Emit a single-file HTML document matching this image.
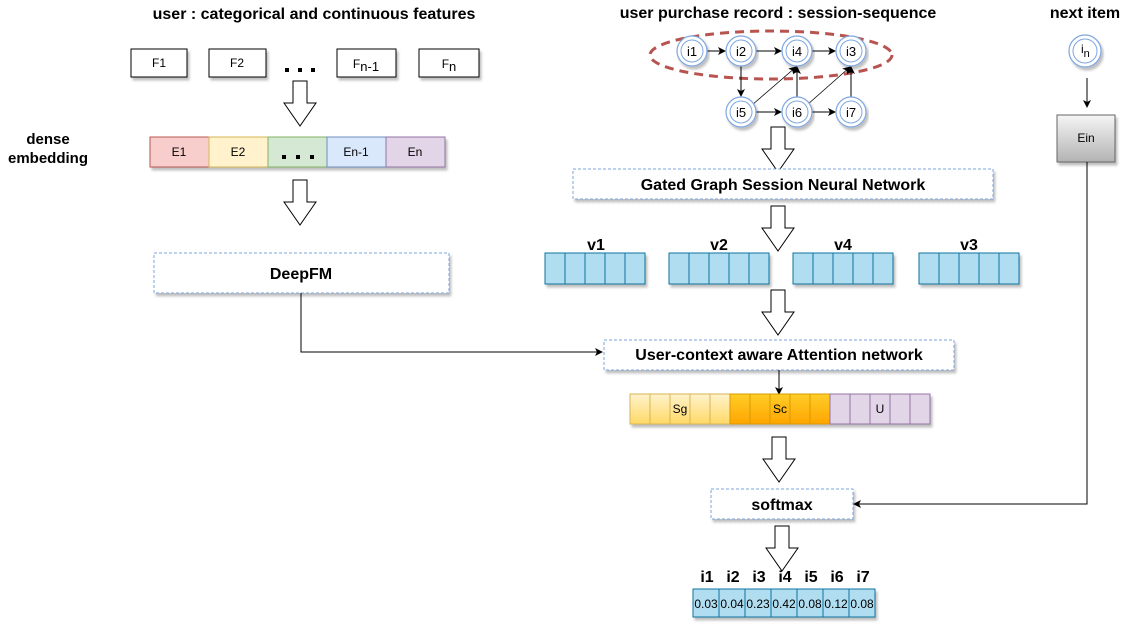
<!DOCTYPE html>
<html><head><meta charset="utf-8"><style>
html,body{margin:0;padding:0;background:#fff}
svg{display:block;font-family:"Liberation Sans",Arial,sans-serif}
.b{font-weight:bold}
</style></head><body>
<svg width="1142" height="629" viewBox="0 0 1142 629" xmlns="http://www.w3.org/2000/svg">
<defs>
<path id="ha" d="M-7,0 H7 V22 H16 L0,45 L-16,22 H-7 Z" fill="#fff" stroke="#000" stroke-width="1"/>
<marker id="ar" markerWidth="8" markerHeight="8" refX="7" refY="4" orient="auto" markerUnits="userSpaceOnUse"><path d="M0,0 L8,4 L0,8 L2,4 Z" fill="#000"/></marker>
<filter id="sh" x="-5%" y="-10%" width="115%" height="140%"><feDropShadow dx="2" dy="3" stdDeviation="1.2" flood-color="#000" flood-opacity="0.25"/></filter>
<linearGradient id="gy" x1="0" y1="0" x2="0" y2="1"><stop offset="0" stop-color="#fff2cc"/><stop offset="1" stop-color="#ffd966"/></linearGradient>
<linearGradient id="go" x1="0" y1="0" x2="0" y2="1"><stop offset="0" stop-color="#ffcd28"/><stop offset="1" stop-color="#ffa500"/></linearGradient>
<linearGradient id="gg" x1="0" y1="0" x2="0" y2="1"><stop offset="0" stop-color="#f5f5f5"/><stop offset="1" stop-color="#b3b3b3"/></linearGradient>
<g id="node"><circle r="15" fill="#fff" stroke="#7ea6e0" stroke-width="1.2" filter="url(#sh)"/><circle r="11" fill="#fff" stroke="#7ea6e0" stroke-width="1"/></g>
<g id="v5" stroke="#10739e" fill="#b1ddf0" filter="url(#sh)"><rect x="0" y="0" width="100" height="31"/><path d="M20,0V31M40,0V31M60,0V31M80,0V31" fill="none"/></g>
</defs>

<text x="314" y="19" text-anchor="middle" font-size="16" class="b">user : categorical and continuous features</text>
<text x="778" y="18" text-anchor="middle" font-size="16" class="b">user purchase record : session-sequence</text>
<text x="1085" y="18" text-anchor="middle" font-size="16" class="b">next item</text>

<g fill="#fff" stroke="#000" filter="url(#sh)">
<rect x="131" y="49" width="56" height="28"/><rect x="209" y="49" width="57" height="28"/>
<rect x="337" y="49" width="59" height="28"/><rect x="419" y="49" width="60" height="28"/></g>
<g font-size="12" text-anchor="middle">
<text x="159" y="67">F1</text><text x="237" y="67">F2</text>
<text x="366" y="68">F<tspan font-size="13" dy="3">n-1</tspan></text>
<text x="449" y="68">F<tspan font-size="13" dy="3">n</tspan></text></g>
<g fill="#000"><rect x="285" y="68" width="4" height="4"/><rect x="298" y="68" width="4" height="4"/><rect x="311" y="68" width="4" height="4"/></g>
<use href="#ha" x="300" y="81"/>

<text x="48" y="144" text-anchor="middle" font-size="15" class="b">dense</text>
<text x="48" y="163" text-anchor="middle" font-size="15" class="b">embedding</text>

<g filter="url(#sh)">
<rect x="150" y="137" width="59" height="30" fill="#f8cecc" stroke="#b85450"/>
<rect x="209" y="137" width="59" height="30" fill="#fff2cc" stroke="#d6b656"/>
<rect x="268" y="137" width="59" height="30" fill="#d5e8d4" stroke="#82b366"/>
<rect x="327" y="137" width="59" height="30" fill="#dae8fc" stroke="#6c8ebf"/>
<rect x="386" y="137" width="59" height="30" fill="#e1d5e7" stroke="#9673a6"/></g>
<g font-size="12" text-anchor="middle"><text x="179" y="156">E1</text><text x="238" y="156">E2</text><text x="356" y="156">En-1</text><text x="415" y="156">En</text></g>
<g fill="#000"><rect x="282" y="155" width="4" height="4"/><rect x="296" y="155" width="4" height="4"/><rect x="310" y="155" width="4" height="4"/></g>
<use href="#ha" x="300" y="180"/>

<rect x="154" y="253" width="295" height="40" fill="#fff" stroke="#7ea6e0" stroke-dasharray="3,2" filter="url(#sh)"/>
<text x="301" y="279" text-anchor="middle" font-size="16" class="b">DeepFM</text>
<path d="M301,293 V352 H602" fill="none" stroke="#000" marker-end="url(#ar)"/>

<ellipse cx="771" cy="55" rx="121" ry="24" fill="none" stroke="#b85450" stroke-width="3" stroke-dasharray="9,6"/>
<g stroke="#000" stroke-width="1" marker-end="url(#ar)">
<line x1="707" y1="51" x2="725" y2="51"/><line x1="756" y1="51" x2="781" y2="51"/><line x1="812" y1="51" x2="835" y2="51"/>
<line x1="741" y1="66" x2="741" y2="96"/><line x1="756" y1="112" x2="781" y2="112"/><line x1="812" y1="112" x2="835" y2="112"/>
<line x1="797" y1="97" x2="797" y2="67"/><line x1="851" y1="97" x2="851" y2="67"/>
<line x1="752" y1="105" x2="796" y2="67" stroke-width="0.8"/><line x1="807" y1="105" x2="850" y2="67" stroke-width="0.8"/>
</g>
<g font-size="13" text-anchor="middle">
<use href="#node" x="692" y="51"/><text x="692" y="56">i1</text>
<use href="#node" x="741" y="51"/><text x="741" y="56">i2</text>
<use href="#node" x="797" y="51"/><text x="797" y="56">i4</text>
<use href="#node" x="851" y="51"/><text x="851" y="56">i3</text>
<use href="#node" x="741" y="112"/><text x="741" y="117">i5</text>
<use href="#node" x="797" y="112"/><text x="797" y="117">i6</text>
<use href="#node" x="851" y="112"/><text x="851" y="117">i7</text>
</g>
<use href="#ha" x="778" y="127"/>

<rect x="573" y="169" width="420" height="30" fill="#fff" stroke="#7ea6e0" stroke-dasharray="3,2" filter="url(#sh)"/>
<text x="783" y="190" text-anchor="middle" font-size="16" class="b">Gated Graph Session Neural Network</text>
<use href="#ha" x="778" y="206"/>

<g font-size="16" class="b" text-anchor="middle">
<text x="596" y="250">v1</text><text x="719" y="250">v2</text><text x="843" y="250">v4</text><text x="969" y="250">v3</text></g>
<use href="#v5" x="545" y="253"/><use href="#v5" x="669" y="253"/><use href="#v5" x="793" y="253"/><use href="#v5" x="919" y="253"/>
<use href="#ha" x="778" y="290"/>

<rect x="604" y="340" width="350" height="30" fill="#fff" stroke="#7ea6e0" stroke-dasharray="3,2" filter="url(#sh)"/>
<text x="779" y="360" text-anchor="middle" font-size="16" class="b">User-context aware Attention network</text>
<line x1="779" y1="370" x2="779" y2="394" stroke="#000" marker-end="url(#ar)"/>

<g filter="url(#sh)">
<rect x="630" y="394" width="100" height="30" fill="url(#gy)" stroke="#d6b656"/>
<rect x="730" y="394" width="100" height="30" fill="url(#go)" stroke="#d79b00"/>
<rect x="830" y="394" width="100" height="30" fill="#e1d5e7" stroke="#9673a6"/></g>
<path d="M650,394v30M670,394v30M690,394v30M710,394v30" stroke="#d6b656"/>
<path d="M750,394v30M770,394v30M790,394v30M810,394v30" stroke="#d79b00"/>
<path d="M850,394v30M870,394v30M890,394v30M910,394v30" stroke="#9673a6"/>
<g font-size="12" text-anchor="middle"><text x="680" y="413">Sg</text><text x="780" y="413">Sc</text><text x="880" y="413">U</text></g>
<use href="#ha" x="779" y="437"/>

<rect x="711" y="489" width="142" height="30" fill="#fff" stroke="#7ea6e0" stroke-dasharray="3,2" filter="url(#sh)"/>
<text x="782" y="510" text-anchor="middle" font-size="16" class="b">softmax</text>
<use href="#ha" x="782" y="526"/>

<g font-size="16" class="b" text-anchor="middle">
<text x="707" y="582">i1</text><text x="733" y="582">i2</text><text x="759" y="582">i3</text><text x="785" y="582">i4</text><text x="811" y="582">i5</text><text x="837" y="582">i6</text><text x="863" y="582">i7</text></g>
<g filter="url(#sh)"><rect x="693" y="589" width="182" height="28" fill="#b1ddf0" stroke="#10739e"/></g>
<path d="M719,589v28M745,589v28M771,589v28M797,589v28M823,589v28M849,589v28" stroke="#10739e"/>
<g font-size="12" text-anchor="middle">
<text x="706" y="608">0.03</text><text x="732" y="608">0.04</text><text x="758" y="608">0.23</text><text x="784" y="608">0.42</text><text x="810" y="608">0.08</text><text x="836" y="608">0.12</text><text x="862" y="608">0.08</text></g>

<circle cx="1085" cy="51" r="16" fill="#fff" stroke="#7ea6e0" stroke-width="1.2" filter="url(#sh)"/>
<circle cx="1085" cy="51" r="12" fill="#fff" stroke="#7ea6e0"/>
<text x="1081" y="53" font-size="12">i<tspan font-size="11" dy="4">n</tspan></text>
<line x1="1087" y1="78" x2="1087" y2="107" stroke="#000" marker-end="url(#ar)"/>
<rect x="1057" y="115" width="58" height="47" fill="url(#gg)" stroke="#666" filter="url(#sh)"/>
<text x="1086" y="142" text-anchor="middle" font-size="12">Ein</text>
<path d="M1087,162 V504 H854" fill="none" stroke="#000" marker-end="url(#ar)"/>
</svg>
</body></html>
